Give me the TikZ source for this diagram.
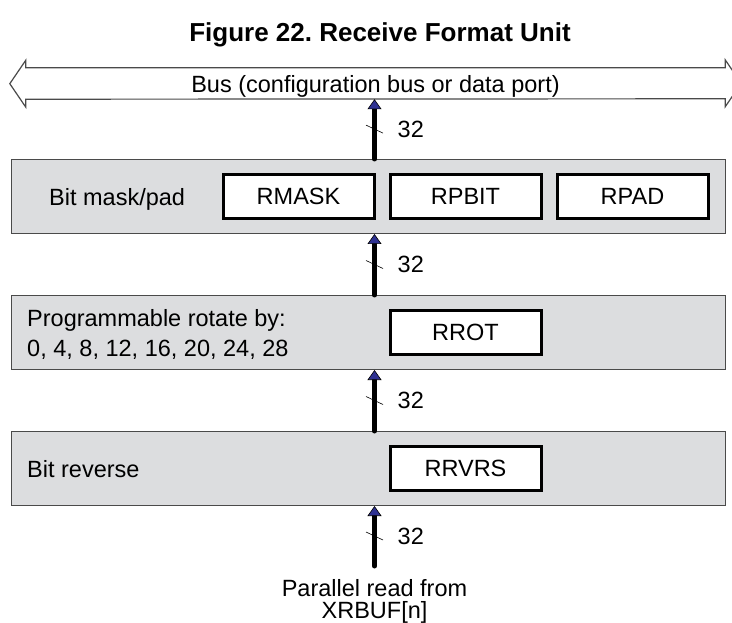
\documentclass[tikz,border=0pt]{standalone}
\usepackage{fontspec}
\setmainfont{Liberation Sans}
\usetikzlibrary{positioning,arrows.meta}
\definecolor{bandgray}{HTML}{DCDDDF}
\definecolor{edgegray}{HTML}{4A4A4A}
\definecolor{tipblue}{HTML}{2E3192}

\begin{document}
\begin{tikzpicture}[x=1pt,y=-1pt,inner sep=2pt,
	every node/.style={font=\fontsize{23.5}{28}\selectfont},
	stage/.style={draw=edgegray,line width=1pt,fill=bandgray,minimum width=714pt,minimum height=74pt},
	reg/.style={draw=black,line width=3pt,fill=white,minimum width=151pt,minimum height=44pt},
	bitbus/.style={line width=5pt,line cap=round,-{Triangle[length=10pt,width=14pt,line width=0.6pt,color=black,fill=tipblue]}},
	slashmark/.style={line width=0.6pt},
	busline/.style={draw=edgegray,line width=1.2pt}]
\useasboundingbox (0,0) rectangle (732,623);
\node[font=\fontsize{26}{30}\selectfont\bfseries] (title) at (380,35) {Figure 22.\ Receive Format Unit};

% bus
\node[minimum width=699pt,minimum height=31pt,text depth=0pt] (bus) at (375.5,83.5) {Bus (configuration bus or data port)};
\begin{scope}
\clip (0,0) rectangle (732,623);
\draw[busline] (bus.north west) -- (bus.north east) -- ++(0,-8) -- ++(16,23.5) -- ++(-16,23.5) -- ++(0,-8)
	-- (bus.south west) -- ++(0,8) -- ++(-16,-23.5) -- ++(16,-23.5) -- cycle;
\end{scope}

% stages
\node[stage] (band1) at (368.5,196.5) {};
\node[stage] (band2) at (368.5,332.5) {};
\node[stage] (band3) at (368.5,468.5) {};

% registers
\node[reg] (rpbit) at (465.5,196.5) {RPBIT};
\node[reg,left=13pt of rpbit] (rmask) {RMASK};
\node[reg,right=13pt of rpbit] (rpad) {RPAD};
\node[reg] (rrot) at (rpbit |- band2) {RROT};
\node[reg] (rrvrs) at (rpbit |- band3) {RRVRS};

% labels
\node[anchor=west] (masklbl) at (47,199) {Bit mask/pad};
\node[anchor=west,align=left,font=\fontsize{23.5}{30}\selectfont] (rotlbl) at (25,334) {Programmable rotate by:\\0, 4, 8, 12, 16, 20, 24, 28};
\node[anchor=west] (revlbl) at (25,469) {Bit reverse};
\node[align=center,anchor=north,outer sep=11pt,font=\fontsize{23.5}{22}\selectfont] (src) at (374.5,566) {Parallel read from\\XRBUF[n]};

% 32-bit paths
\coordinate (spine) at (374.5,0);
\foreach \a/\b [count=\i] in {band1/bus,band2/band1,band3/band2,src/band3}{
	\draw[bitbus] (\a.north -| spine) -- coordinate (m\i) (\b.south -| spine);
	\draw[slashmark] ([shift={(-8.5,-4)}]m\i) -- ([shift={(8.5,4)}]m\i);
	\node[anchor=west] (w\i) at ([xshift=21pt]m\i) {32};
}
\end{tikzpicture}
\end{document}
